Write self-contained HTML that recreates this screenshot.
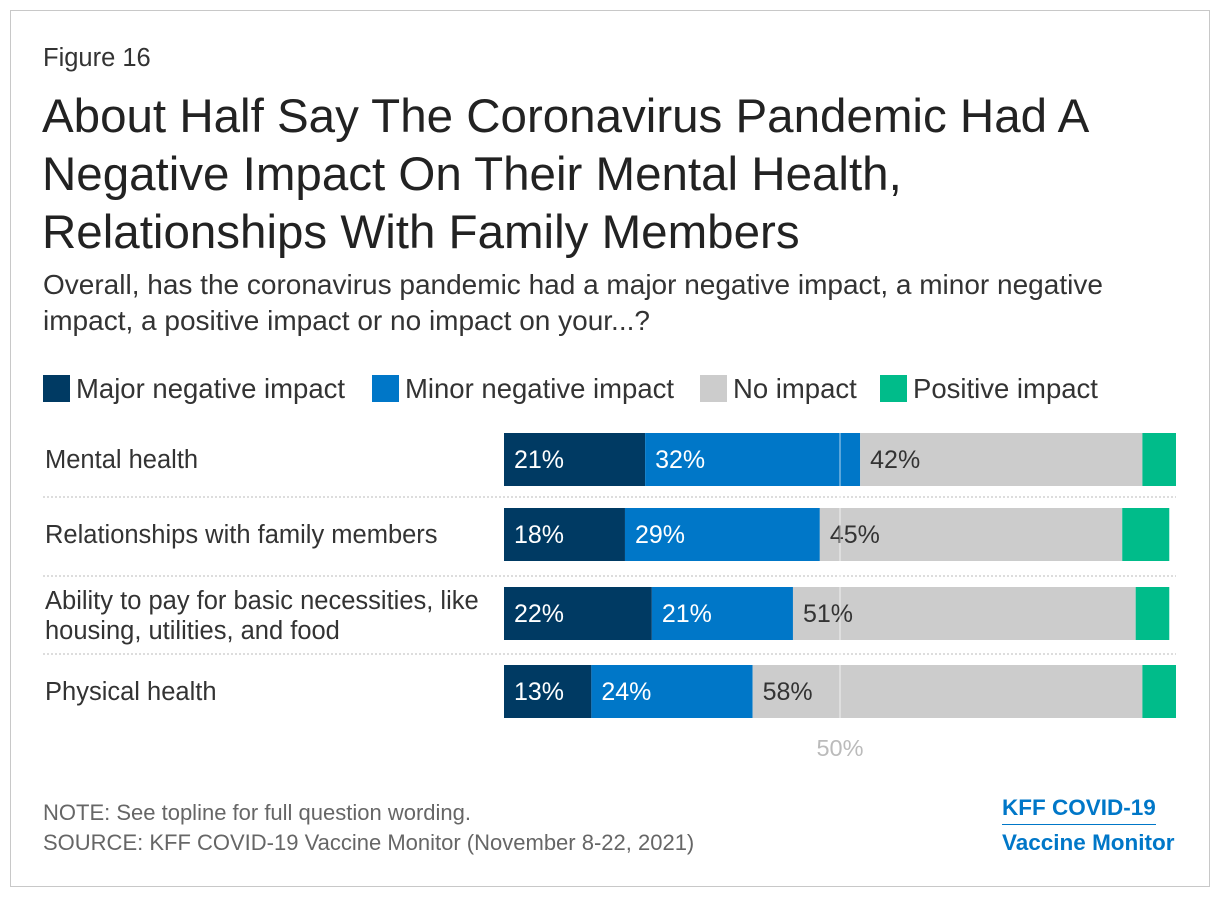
<!DOCTYPE html>
<html><head><meta charset="utf-8"><style>
body{margin:0;background:#fff;font-family:"Liberation Sans",Arial,sans-serif;}
#frame{position:absolute;left:10px;top:10px;width:1198px;height:875px;border:1px solid #c8c8c8;}
.t{position:absolute;color:#333;white-space:nowrap;}
</style></head><body>
<div id="frame"></div>
<div class="t" style="left:43px;top:44px;font-size:25.5px">Figure 16</div>
<div class="t" style="left:42px;top:88px;font-size:47.5px;line-height:58px;color:#222">About Half Say The Coronavirus Pandemic Had A<br>Negative Impact On Their Mental Health,<br>Relationships With Family Members</div>
<div class="t" style="left:43px;top:267px;font-size:28px;line-height:36px">Overall, has the coronavirus pandemic had a major negative impact, a minor negative<br>impact, a positive impact or no impact on your...?</div>
<svg id="chart" width="1220" height="898" style="position:absolute;left:0;top:0"></svg>
<div class="t" style="left:43px;top:800px;font-size:22px;color:#666">NOTE: See topline for full question wording.</div>
<div class="t" style="left:43px;top:830px;font-size:22px;color:#666">SOURCE: KFF COVID-19 Vaccine Monitor (November 8-22, 2021)</div>
<div class="t" style="left:1002px;top:795px;font-size:22.5px;font-weight:bold;color:#0077c8;border-bottom:1.5px solid #0077c8;padding-bottom:3px">KFF COVID-19</div>
<div class="t" style="left:1002px;top:830px;font-size:22.5px;font-weight:bold;color:#0077c8">Vaccine Monitor</div>
<script>
const categories=[["Mental health"],["Relationships with family members"],["Ability to pay for basic necessities, like","housing, utilities, and food"],["Physical health"]];
const majorNeg=[21,18,22,13];
const minorNeg=[32,29,21,24];
const noImpact=[42,45,51,58];
const positive=[5,7,5,5];
const seriesNames=["Major negative impact","Minor negative impact","No impact","Positive impact"];
const colors=["#003a63","#0077c8","#cccccc","#00bc8a"];
const NS="http://www.w3.org/2000/svg";
const svg=document.getElementById("chart");
const x0=504,pxPer=6.72;
const xs=v=>x0+v*pxPer;
const rowTop=[433,508,587,665],barH=53;
function el(tag,attrs){const e=document.createElementNS(NS,tag);for(const k in attrs)e.setAttribute(k,attrs[k]);svg.appendChild(e);return e;}
const legX=[43,372,700,880];
seriesNames.forEach((n,i)=>{
 const r=el("rect",{x:legX[i],y:375,width:27,height:27,fill:colors[i]});
 
 
 const t=el("text",{x:legX[i]+33,y:398,"font-size":27.5,fill:"#333"});t.textContent=n;
 
 
});
const series=[majorNeg,minorNeg,noImpact,positive];
categories.forEach((c,i)=>{
 const y=rowTop[i];
 c.forEach((line,j)=>{
  const ty=c.length>1?y+22+j*30:y+35;
  const t=el("text",{x:45,y:ty,"font-size":25.5,fill:"#333"});t.textContent=line;
  
  
 });
 if(i>0){const l=el("line",{x1:43,x2:1176,y1:y-11,y2:y-11,stroke:"#bbb","stroke-dasharray":"2,2"});
  
  }
 let acc=0;
 series.forEach((s,k)=>{
  const v=s[i];
  const r=el("rect",{x:xs(acc),y:y,width:v*pxPer,height:barH,fill:colors[k]});
  
  
  if(k<3){const t=el("text",{x:xs(acc)+10,y:y+35,"font-size":25,fill:k==2?"#333":"#fff"});t.textContent=v+"%";
   
   }
  acc+=v;
 });
});
const ref=el("line",{x1:xs(50),x2:xs(50),y1:433,y2:719,stroke:"#fff","stroke-width":1,opacity:0.7});


const rt=el("text",{x:xs(50),y:756,"font-size":23.5,fill:"#bbb","text-anchor":"middle"});rt.textContent="50%";


</script>
</body></html>
